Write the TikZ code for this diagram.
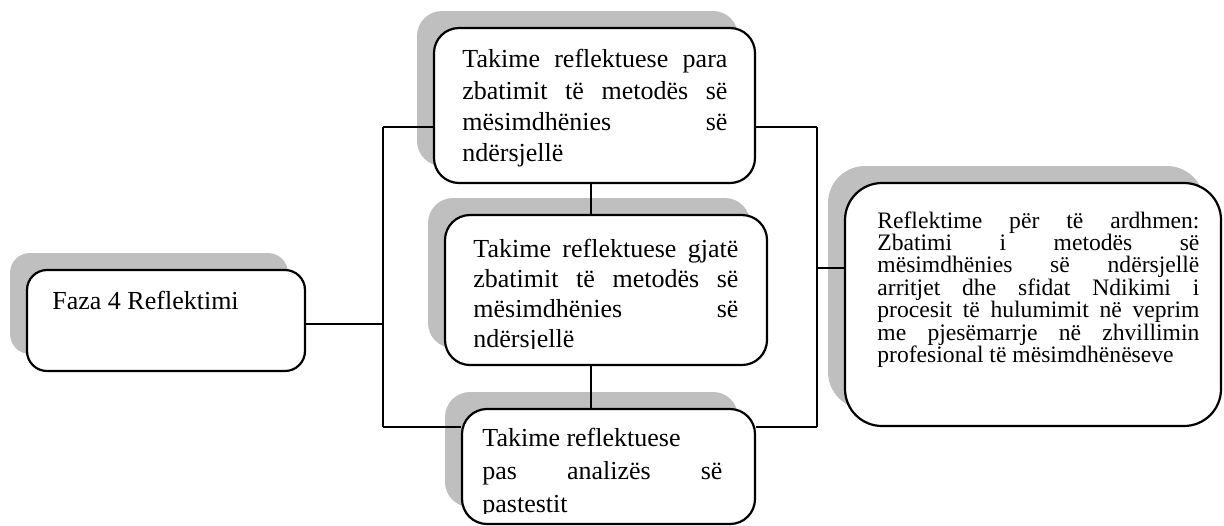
\documentclass[tikz,border=0pt]{standalone}
\usepackage{fontspec}
\setmainfont{Liberation Serif}
\usetikzlibrary{shadows}
\tolerance=10000
\hbadness=10000
\hyphenpenalty=10000

\begin{document}
\begin{tikzpicture}[x=0.5pt, y=-0.5pt,
  box/.style={draw, line width=1.1pt, fill=white, rounded corners=12.5pt, inner sep=0pt,
    drop shadow={shadow xshift=-8.5pt, shadow yshift=8.5pt, fill=gray!50, opacity=1}},
  link/.style={line width=0.9pt},
  bigtxt/.style={font=\fontsize{13}{15.7}\selectfont, align=justify, inner sep=0pt, anchor=north west},
  smalltxt/.style={font=\fontsize{11.8}{11.2}\selectfont, align=justify, inner sep=0pt, anchor=north west}]
\useasboundingbox (0,0) rectangle (1224,525);

% boxes
\node[box, rounded corners=10pt, minimum width=139pt, minimum height=50.5pt] (faza) at (166,320.5) {};
\node[box, minimum width=160.5pt, minimum height=77.5pt] (para) at (594.5,105.5) {};
\node[box, minimum width=161pt, minimum height=75pt] (gjate) at (606,290) {};
\node[box, minimum width=146.5pt, minimum height=57.5pt] (pas) at (608.5,466.5) {};
\node[box, rounded corners=18.5pt, minimum width=188pt, minimum height=121.5pt] (ardhmen) at (1033,304.5) {};

% texts
\node[font=\fontsize{13}{16}\selectfont, inner sep=0pt, anchor=base west] (fazatxt) at (52,309) {Faza 4 Reflektimi};
\node[bigtxt, text width=132.5pt] (paratxt) at (462,49) {Takime reflektuese para\linebreak zbatimit të metodës së\linebreak mësimdhënies së\linebreak ndërsjellë};
\begin{scope}
\clip (445,215) rectangle (767,348);
\node[bigtxt, font=\fontsize{13}{15}\selectfont, text width=132.5pt] (gjatetxt) at (473,239) {Takime reflektuese gjatë\linebreak zbatimit të metodës së\linebreak mësimdhënies së\linebreak ndërsjellë};
\end{scope}
\begin{scope}
\clip (462,409) rectangle (755,513);
\node[bigtxt, font=\fontsize{13}{16.5}\selectfont, text width=120pt] (pastxt) at (482,428) {Takime reflektuese\newline pas analizës së\linebreak pastestit};
\end{scope}
\node[smalltxt, text width=161pt] (ardhmentxt) at (877,211) {Reflektime për të ardhmen:\linebreak Zbatimi i metodës së\linebreak mësimdhënies së ndërsjellë\linebreak arritjet dhe sfidat Ndikimi i\linebreak procesit të hulumimit në veprim\linebreak me pjesëmarrje në zhvillimin\linebreak profesional të mësimdhënëseve};

% connectors
\coordinate (ltop) at (383,127);
\coordinate (lmid) at (383,324);
\coordinate (lbot) at (383,427);
\coordinate (rtop) at (817,127);
\coordinate (rmid) at (817,268);
\coordinate (rbot) at (817,427);
\coordinate (spine) at (591,0);
\draw[link] (faza.east |- lmid) -- (lmid);
\draw[link] (ltop) -- (lbot);
\draw[link] (ltop) -- (ltop -| para.west);
\draw[link] (lbot) -- (lbot -| pas.west);
\draw[link] (rtop) -- (rbot);
\draw[link] (para.east |- rtop) -- (rtop);
\draw[link] (pas.east |- rbot) -- (rbot);
\draw[link] (rmid) -- (rmid -| ardhmen.west);
\draw[link] (para.south -| spine) -- (gjate.north -| spine);
\draw[link] (gjate.south -| spine) -- (pas.north -| spine);
\end{tikzpicture}
\end{document}
